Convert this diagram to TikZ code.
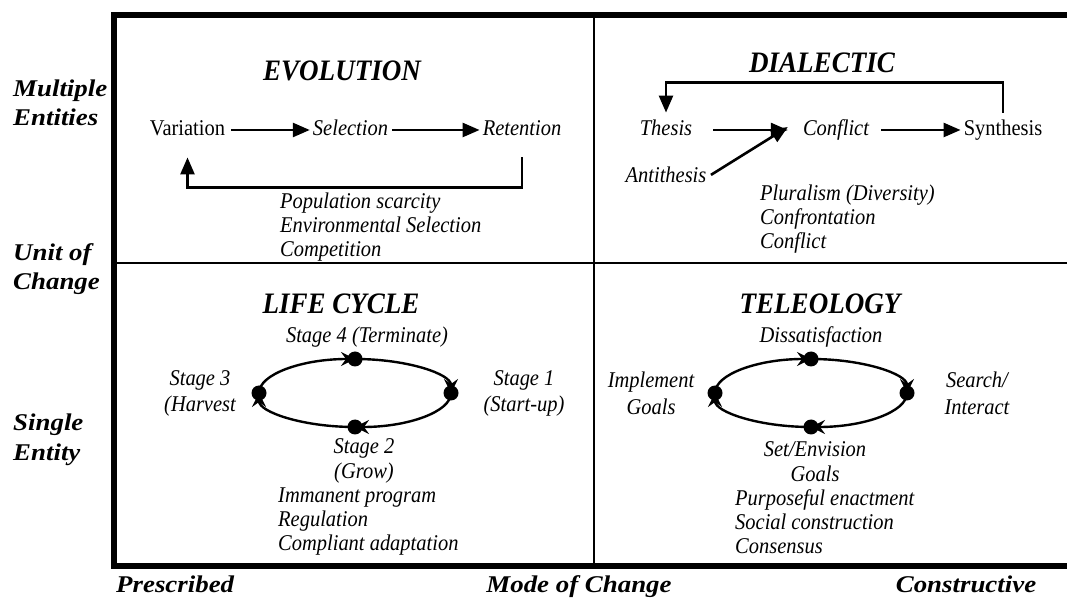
\documentclass[tikz,border=0pt]{standalone}
\usepackage{fontspec}
\setmainfont{Liberation Serif}[FakeStretch=0.91]
\newfontfamily\axisfont{Liberation Serif}[FakeStretch=1.12]
\usetikzlibrary{arrows.meta}
\begin{document}
\begin{tikzpicture}[x=1pt,y=1pt,
  base/.style={inner sep=1pt, text height=15.5pt, text depth=5pt},
  rm/.style={base, font=\fontsize{22.5}{26}\selectfont},
  it/.style={base, font=\fontsize{22.5}{26}\selectfont\itshape},
  listtxt/.style={inner sep=0pt, anchor=west, align=left, font=\fontsize{22.5}{24}\selectfont\itshape},
  pairtxt/.style={inner sep=0pt, align=center, font=\fontsize{22.5}{26.5}\selectfont\itshape},
  tightpair/.style={inner sep=0pt, align=center, font=\fontsize{22.5}{24.5}\selectfont\itshape},
  title/.style={inner sep=0pt, font=\fontsize{29.7}{32}\selectfont\bfseries\itshape},
  axis/.style={inner sep=0pt, align=left, font=\axisfont\fontsize{24}{29.5}\selectfont\bfseries\itshape},
  frame/.style={line width=5.5pt},
  divider/.style={line width=2pt},
  flow/.style={line width=2.6pt, -{Triangle[length=17pt,width=14pt]}},
  cyc/.style={line width=2.4pt, -{Stealth[length=14pt,width=14pt,inset=5pt]}},
  dot/.style={circle, fill, inner sep=0pt, minimum size=15pt}
]
\useasboundingbox (0,0) rectangle (1067,597);

% grid of the four quadrants
\draw[frame] (1070,582) -- (114,582) -- (114,31) -- (1070,31);
\draw[divider] (114,334) -- (1070,334);
\draw[divider] (594,582) -- (594,31);

% axis labels
\node[axis, anchor=west] (multi) at (13,494) {Multiple\\Entities};
\node[axis, anchor=west] (unit) at (13,328) {Unit of\\Change};
\node[axis, anchor=west] (single) at (13,157) {Single\\Entity};
\node[axis, anchor=base west] (presc) at (116,5) {Prescribed};
\node[axis, anchor=base] (mode) at (579,5) {Mode of Change};
\node[axis, anchor=base] (constr) at (966,5) {Constructive};

% EVOLUTION
\node[title] (evo) at (342,526) {EVOLUTION};
\node[rm] (var) at (187.5,467) {Variation};
\node[it] (sel) at (350.5,467) {Selection};
\node[it] (ret) at (522,467) {Retention};
\draw[flow, shorten <=5pt, shorten >=2pt] (var.east) -- (sel.west);
\draw[flow, shorten <=3pt, shorten >=2pt] (sel.east) -- (ret.west);
\draw[flow] ([yshift=-16pt]ret.south) -- ++(0,-30) -| ([yshift=-16pt]var.south);
\node[listtxt] (evolist) at (280,370) {Population scarcity\\Environmental Selection\\Competition};

% DIALECTIC
\node[title] (dia) at (822,534) {DIALECTIC};
\node[it] (the) at (666,467) {Thesis};
\node[it] (con) at (836,467) {Conflict};
\node[rm] (syn) at (1003,467) {Synthesis};
\node[it] (anti) at (666,420) {Antithesis};
\draw[flow, shorten <=20pt] (the.east) -- ([xshift=-14pt]con.west);
\draw[flow, shorten <=4pt] (anti.east) -- ([xshift=-14pt,yshift=3pt]con.west);
\draw[flow, shorten <=11pt, shorten >=2pt] (con.east) -- (syn.west);
\draw[flow] ([yshift=6pt]syn.north) -- ++(0,30) -| ([yshift=6pt]the.north);
\node[listtxt] (dialist) at (760,378) {Pluralism (Diversity)\\Confrontation\\Conflict};

% LIFE CYCLE
\node[title] (life) at (341,293) {LIFE CYCLE};
\node[dot] (lcL) at (259,204) {};
\node[dot] (lcT) at (355,238) {};
\node[dot] (lcR) at (451,204) {};
\node[dot] (lcB) at (355,170) {};
\draw[cyc] (lcL.center) .. controls +(0,18.8) and +(-53,0) .. (lcT.center);
\draw[cyc] (lcT.center) .. controls +(53,0) and +(0,18.8) .. (lcR.center);
\draw[cyc] (lcR.center) .. controls +(0,-18.8) and +(53,0) .. (lcB.center);
\draw[cyc] (lcB.center) .. controls +(-53,0) and +(0,-18.8) .. (lcL.center);
\node[pairtxt] (st4) at (367,260) {Stage 4 (Terminate)};
\node[pairtxt] (st1) at (524,203.5) {Stage 1\\(Start-up)};
\node[tightpair] (st2) at (364,136) {Stage 2\\(Grow)};
\node[pairtxt] (st3) at (200,203.5) {Stage 3\\(Harvest};
\node[listtxt] (liflist) at (278,75) {Immanent program\\Regulation\\Compliant adaptation};

% TELEOLOGY
\node[title] (tel) at (820,293) {TELEOLOGY};
\node[dot] (tlL) at (715,204) {};
\node[dot] (tlT) at (811,238) {};
\node[dot] (tlR) at (907,204) {};
\node[dot] (tlB) at (811,170) {};
\draw[cyc] (tlL.center) .. controls +(0,18.8) and +(-53,0) .. (tlT.center);
\draw[cyc] (tlT.center) .. controls +(53,0) and +(0,18.8) .. (tlR.center);
\draw[cyc] (tlR.center) .. controls +(0,-18.8) and +(53,0) .. (tlB.center);
\draw[cyc] (tlB.center) .. controls +(-53,0) and +(0,-18.8) .. (tlL.center);
\node[pairtxt] (diss) at (821,260) {Dissatisfaction};
\node[pairtxt] (srch) at (977,203.5) {Search/\\Interact};
\node[tightpair] (setg) at (815,135.5) {Set/Envision\\Goals};
\node[pairtxt] (impl) at (651,203.5) {Implement\\Goals};
\node[listtxt] (tellist) at (735,75) {Purposeful enactment\\Social construction\\Consensus};
\end{tikzpicture}
\end{document}
